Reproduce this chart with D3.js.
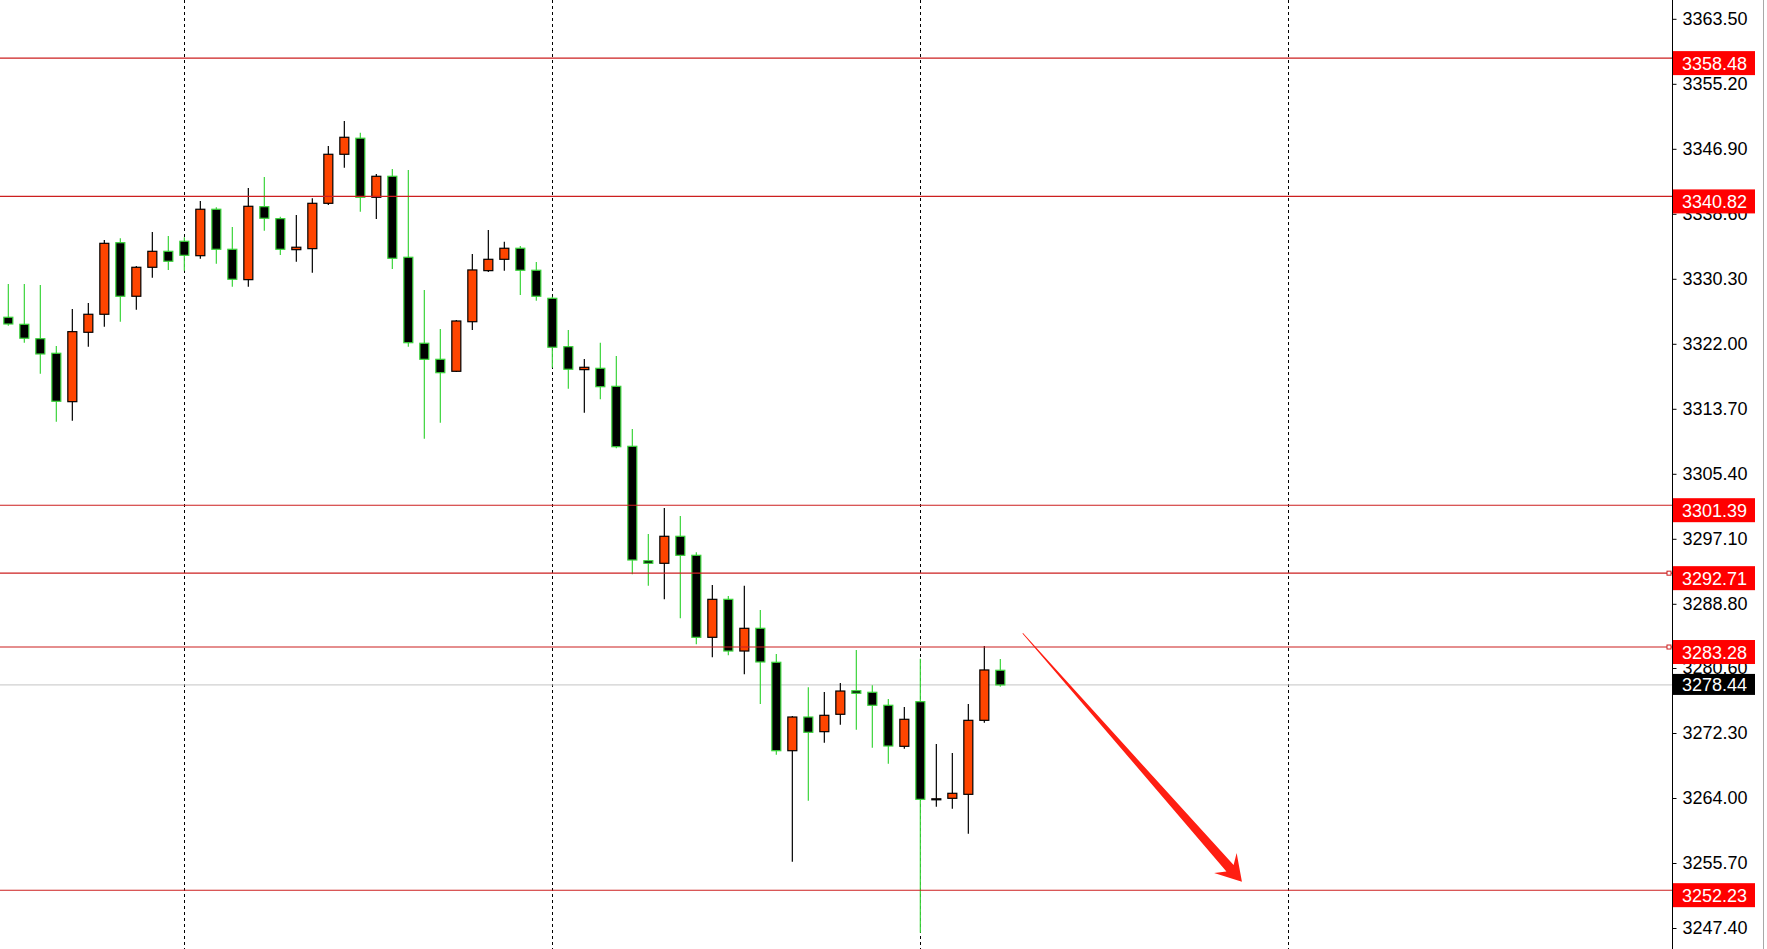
<!DOCTYPE html>
<html><head><meta charset="utf-8">
<script src="https://cdn.jsdelivr.net/npm/d3@7"></script>
<style>html,body{margin:0;padding:0;background:#fff;overflow:hidden}svg{display:block}</style>
</head><body>
<svg id="c" width="1767" height="949"></svg>
<script>
// ---- data ----
const opens  = [3325.39,3324.49,3322.65,3320.79,3314.61,3323.47,3325.77,3334.91,3328.07,3331.77,3333.81,3335.09,3333.25,3339.18,3334.07,3330.19,3339.51,3337.98,3334.02,3334.15,3339.94,3346.20,3348.25,3340.71,3343.39,3333.05,3322.07,3320.02,3318.49,3324.82,3331.34,3332.79,3334.20,3331.39,3327.81,3321.63,3318.70,3318.87,3316.57,3308.91,3294.30,3293.97,3297.42,3294.99,3284.52,3289.37,3282.77,3285.67,3281.33,3270.04,3274.34,3272.47,3274.69,3277.70,3277.50,3275.84,3270.60,3276.30,3263.90,3263.96,3264.47,3273.92,3280.31];
const highs  = [3329.64,3329.64,3329.51,3321.72,3326.45,3327.21,3335.26,3335.47,3331.94,3336.28,3335.77,3335.60,3340.24,3339.43,3336.92,3341.90,3343.30,3338.23,3338.45,3340.58,3347.26,3350.45,3348.96,3343.69,3344.32,3344.20,3328.87,3323.89,3325.04,3333.47,3336.53,3335.04,3334.49,3332.45,3328.02,3323.76,3320.06,3322.14,3320.44,3311.12,3297.71,3301.03,3300.01,3295.38,3291.20,3289.80,3291.11,3288.01,3282.39,3274.47,3278.14,3277.54,3278.69,3282.90,3278.39,3276.64,3275.62,3281.79,3270.90,3269.75,3276.00,3283.41,3281.75];
const lows   = [3324.31,3322.14,3318.18,3312.05,3312.18,3321.63,3324.19,3324.82,3326.36,3330.44,3331.43,3331.34,3332.87,3332.23,3329.29,3329.29,3336.45,3333.34,3332.49,3331.08,3339.73,3344.49,3338.87,3337.94,3331.55,3321.63,3309.88,3311.93,3318.40,3323.76,3331.17,3331.34,3328.23,3327.51,3318.95,3316.27,3313.20,3314.91,3308.66,3292.57,3291.11,3289.37,3286.95,3283.63,3281.97,3282.22,3279.80,3276.00,3269.53,3255.87,3263.66,3271.06,3273.36,3272.72,3270.42,3268.38,3270.30,3246.80,3262.89,3262.63,3259.44,3273.62,3278.21];
const closes = [3324.53,3322.71,3320.70,3314.66,3323.55,3325.77,3334.83,3328.07,3331.77,3333.81,3332.54,3333.30,3339.18,3334.07,3330.24,3339.56,3338.03,3334.07,3334.33,3339.94,3346.20,3348.37,3340.71,3343.39,3332.92,3322.14,3320.02,3318.31,3324.91,3331.43,3332.79,3334.20,3331.39,3328.07,3321.56,3318.75,3319.00,3316.52,3308.86,3294.39,3293.97,3297.42,3294.99,3284.52,3289.37,3282.77,3285.67,3281.37,3270.04,3274.34,3272.39,3274.56,3277.66,3277.37,3275.84,3270.64,3274.05,3263.83,3263.90,3264.60,3273.92,3280.35,3278.44];

const yTicks = [3363.50,3355.20,3346.90,3338.60,3330.30,3322.00,3313.70,3305.40,3297.10,3288.80,3280.60,3272.30,3264.00,3255.70,3247.40];
const levels = [3358.48,3340.82,3301.39,3292.71,3283.28,3252.23];
const levelHasMarker = [false,false,false,true,true,false];
const lastPrice = 3278.44;
const gridIdx = [11,34,57,80];
const arrowFrom = [63.4, 3285.03];
const arrowTo   = [77.1, 3253.31];

// ---- drawing ----
const W = 1767, H = 949, axisX = 1672;
const FONT = "'Liberation Sans', Arial, sans-serif";
const FS = 18;
const svg = d3.select('#c');
const x = d3.scaleLinear().domain([0, 100]).range([8.33, 1608.33]);
const y = d3.scaleLinear().domain([3247.4, 3363.5]).range([928, 18.8]);

svg.append('rect').attr('width', W).attr('height', H).attr('fill', '#fff');

// vertical dashed grid
svg.append('g').selectAll('line').data(gridIdx).join('line')
  .attr('x1', d => Math.round(x(d)) + 0.5).attr('x2', d => Math.round(x(d)) + 0.5)
  .attr('y1', 0).attr('y2', H)
  .attr('stroke', '#000').attr('stroke-width', 1).attr('stroke-dasharray', '3,3');

// last-price gray line
svg.append('line').attr('x1', 0).attr('x2', axisX).attr('y1', y(lastPrice)).attr('y2', y(lastPrice))
  .attr('stroke', '#c4c4c4').attr('stroke-width', 1);

const data = opens.map((o, i) => ({i, o, h: highs[i], l: lows[i], c: closes[i], up: closes[i] >= o}));
const GREEN = '#3bd43b', ORANGE = '#ff4500';

const cg = svg.append('g');
cg.selectAll('line.wick').data(data).join('line').attr('class', 'wick')
  .attr('x1', d => x(d.i)).attr('x2', d => x(d.i))
  .attr('y1', d => y(d.h)).attr('y2', d => y(d.l))
  .attr('stroke', d => d.up ? '#000' : GREEN).attr('stroke-width', 1.2);
cg.selectAll('rect.body').data(data).join('rect').attr('class', 'body')
  .attr('x', d => x(d.i) - 4.5).attr('width', 9)
  .attr('y', d => y(Math.max(d.o, d.c)))
  .attr('height', d => Math.max(1, Math.abs(y(d.o) - y(d.c))))
  .attr('fill', d => d.up ? ORANGE : '#000')
  .attr('stroke', d => d.up ? '#000' : GREEN).attr('stroke-width', 1.2);

// horizontal level lines
const LRED = '#cc1f1f';
svg.append('g').selectAll('line').data(levels).join('line')
  .attr('x1', 0).attr('x2', axisX).attr('y1', d => y(d)).attr('y2', d => y(d))
  .attr('stroke', LRED).attr('stroke-width', 1.1);
svg.append('g').selectAll('rect').data(levels.filter((d, i) => levelHasMarker[i])).join('rect')
  .attr('x', axisX - 5).attr('y', d => y(d) - 2).attr('width', 4).attr('height', 4)
  .attr('fill', '#fff').attr('stroke', LRED).attr('stroke-width', 1);

// arrow annotation
(function () {
  const x1 = x(arrowFrom[0]), y1 = y(arrowFrom[1]);
  const x2 = x(arrowTo[0]), y2 = y(arrowTo[1]);
  const L = Math.hypot(x2 - x1, y2 - y1);
  const ux = (x2 - x1) / L, uy = (y2 - y1) / L;
  const nx = -uy, ny = ux;
  const P = (t, s) => [x1 + ux * t + nx * s, y1 + uy * t + ny * s];
  const pts = [P(0, 0.4), P(L * 0.5, 2.6), P(L - 18, 4.8), P(L - 25, 15), P(L, 0), P(L - 25, -15), P(L - 18, -4.8), P(L * 0.5, -2.6), P(0, -0.4)];
  svg.append('path').attr('d', d3.line()(pts) + 'Z').attr('fill', '#ff1e12');
})();

// right price axis
svg.append('rect').attr('x', axisX).attr('y', 0).attr('width', W - axisX).attr('height', H).attr('fill', '#fff');
svg.append('line').attr('x1', axisX + 0.5).attr('x2', axisX + 0.5).attr('y1', 0).attr('y2', H)
  .attr('stroke', '#000').attr('stroke-width', 1);
svg.append('line').attr('x1', 1763.5).attr('x2', 1763.5).attr('y1', 0).attr('y2', H)
  .attr('stroke', '#a8a8a8').attr('stroke-width', 1);

const axis = d3.axisRight(y).tickValues(yTicks).tickSize(4).tickPadding(6).tickFormat(d => d.toFixed(2));
const ag = svg.append('g').attr('transform', `translate(${axisX + 0.5},0)`).call(axis);
ag.select('.domain').remove();
ag.selectAll('.tick line').attr('stroke', '#000');
ag.selectAll('.tick text').attr('font-family', FONT).attr('font-size', FS).attr('fill', '#000');

// level labels
const lg = svg.append('g');
lg.selectAll('rect').data(levels).join('rect')
  .attr('x', axisX + 1).attr('y', d => y(d) - 7).attr('width', 82).attr('height', 24).attr('fill', '#ff0000');
lg.selectAll('text').data(levels).join('text')
  .attr('x', axisX + 10).attr('y', d => y(d) + 11.5)
  .attr('font-family', FONT).attr('font-size', FS).attr('fill', '#fff')
  .text(d => d.toFixed(2));

// last price label
svg.append('rect').attr('x', axisX + 1).attr('y', y(lastPrice) - 11).attr('width', 82).attr('height', 21).attr('fill', '#000');
svg.append('text').attr('x', axisX + 10).attr('y', y(lastPrice) + 6.5)
  .attr('font-family', FONT).attr('font-size', FS).attr('fill', '#fff').text(lastPrice.toFixed(2));
</script>
</body></html>
